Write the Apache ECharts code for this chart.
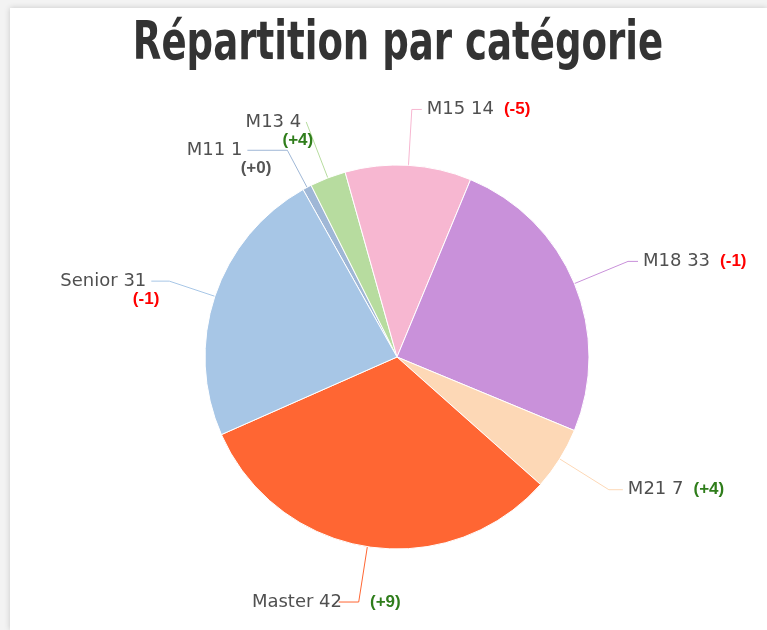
<!DOCTYPE html>
<html><head><meta charset="utf-8">
<script src="https://cdn.jsdelivr.net/npm/echarts@6/dist/echarts.min.js"></script>
<style>
html,body{margin:0;padding:0;background:#f3f3f3;}
#panel{position:absolute;left:10px;top:8px;width:757px;height:622px;background:#fff;box-shadow:0 0 6px rgba(0,0,0,0.18);}
#main{position:absolute;left:0;top:0;width:767px;height:630px;}
</style></head>
<body><div id="panel"></div><div id="main"></div>
<script>
const titleText = 'Répartition par catégorie';
const categories = ['M11', 'M13', 'M15', 'M18', 'M21', 'Master', 'Senior'];
const counts = [1, 4, 14, 33, 7, 42, 31];
const deltas = ['+0', '+4', '-5', '-1', '+4', '+9', '-1'];

const colors = ['#9fb7d6', '#b7dc9f', '#f7b7d1', '#c991da', '#fdd8b6', '#ff6633', '#a7c6e6'];
// labels whose delta sits on a second line, with the delta pushed right by this much
const secondLineShift = {M11: 29, M13: 12, Senior: 13};
const deltaPastLine = {Master: true};
const lineLen = {M11: [42, 40], M13: [60, 0], M15: [56, 10], M18: [58, 10], M21: [58, 14], Master: [56, 20], Senior: [48, 18]};

function deltaStyle(d) {
  if (d.startsWith('-')) return 'neg';
  if (d === '+0') return 'zero';
  return 'pos';
}

const data = categories.map((c, i) => ({
  name: c,
  value: counts[i],
  itemStyle: {color: colors[i]},
  labelLine: {length: lineLen[c][0], length2: lineLen[c][1]}
}));

const chart = echarts.init(document.getElementById('main'), null, {renderer: 'canvas'});
chart.setOption({
  backgroundColor: 'transparent',
  animation: false,
  graphic: [{
    type: 'text',
    x: 398,
    y: 45,
    scaleX: 0.7,
    silent: true,
    style: {
      text: titleText,
      align: 'center',
      verticalAlign: 'middle',
      fontFamily: '"DejaVu Sans", sans-serif',
      fontWeight: 'bold',
      fontSize: 53,
      fill: '#333'
    }
  }],
  series: [{
    type: 'pie',
    center: [397, 357],
    radius: 192,
    startAngle: 119.3,
    clockwise: true,
    avoidLabelOverlap: false,
    data: data,
    itemStyle: {borderColor: '#fff', borderWidth: 1},
    labelLine: {show: true, lineStyle: {width: 1}},
    labelLayout: function (params) {
      const c = categories[params.dataIndex];
      const pts = params.labelLinePoints;
      const out = {hideOverlap: false};
      if (!pts) return out;
      if (secondLineShift[c] != null) {
        out.dy = 9;
        out.dx = secondLineShift[c];
        out.labelLinePoints = pts;
      }
      if (deltaPastLine[c]) {
        const r = params.labelRect;
        out.dx = (pts[1][0] + 42) - (r.x + r.width);
        out.labelLinePoints = pts;
      }
      return out;
    },
    label: {
      show: true,
      position: 'outside',
      formatter: function (p) {
        const i = p.dataIndex;
        const c = categories[i];
        const key = deltaStyle(deltas[i]);
        const d = '{' + key + '|(' + deltas[i] + ')}';
        if (secondLineShift[c] != null) return '{n' + c + '|' + c + ' ' + counts[i] + '}\n' + d;
        const name = '{n|' + c + ' ' + counts[i] + '}';
        if (deltaPastLine[c]) return name + '{gap|}' + d;
        return name + '{sp|}' + d;
      },
      rich: Object.assign({
        sp: {width: 10},
        gap: {width: 28},
        n: {fontFamily: '"DejaVu Sans", Verdana, sans-serif', fontSize: 18, color: '#505050', lineHeight: 18},
        neg: {fontFamily: '"Liberation Sans", Arial, sans-serif', fontWeight: 'bold', fontSize: 17, color: '#ff0000', lineHeight: 18},
        pos: {fontFamily: '"Liberation Sans", Arial, sans-serif', fontWeight: 'bold', fontSize: 17, color: '#2f7d1b', lineHeight: 18},
        zero: {fontFamily: '"Liberation Sans", Arial, sans-serif', fontWeight: 'bold', fontSize: 17, color: '#555', lineHeight: 18}
      }, Object.fromEntries(Object.keys(secondLineShift).map(c => ['n' + c, {
        fontFamily: '"DejaVu Sans", Verdana, sans-serif', fontSize: 18, color: '#505050', lineHeight: 18,
        padding: [0, secondLineShift[c], 0, 0]
      }])))
    },
    emphasis: {disabled: true}
  }]
});
</script></body></html>
